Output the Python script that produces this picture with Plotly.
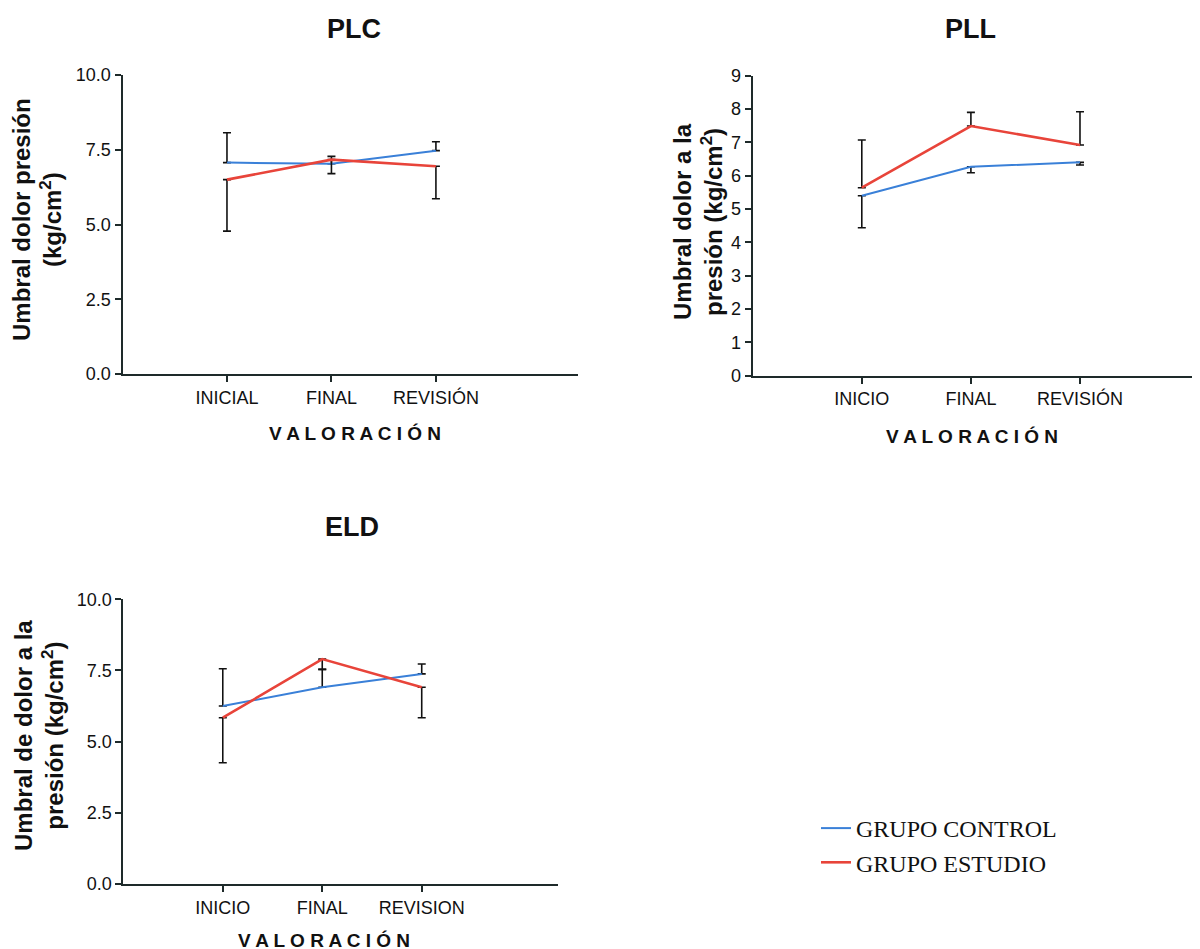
import plotly.graph_objects as go

# ---------------- data ----------------
categories_plc = ["INICIAL", "FINAL", "REVISIÓN"]
categories_pll = ["INICIO", "FINAL", "REVISIÓN"]
categories_eld = ["INICIO", "FINAL", "REVISION"]
positions = [1, 2, 3]

plc_control = [7.07, 7.03, 7.47]
plc_control_err = [1.00, 0.25, 0.30]
plc_estudio = [6.50, 7.17, 6.95]
plc_estudio_err = [1.72, 0.47, 1.09]

pll_control = [5.40, 6.27, 6.40]
pll_control_err = [0.96, 0.18, 0.08]
pll_estudio = [5.64, 7.49, 6.92]
pll_estudio_err = [1.43, 0.41, 1.00]

eld_control = [6.25, 6.91, 7.38]
eld_control_err = [1.31, 0.63, 0.35]
eld_estudio = [5.84, 7.90, 6.91]
eld_estudio_err = [1.58, 0.36, 1.07]

BLUE = "#3a80d8"
RED = "#e8443a"
AX = "#1e2a2a"
FONT = "Liberation Sans, Arial, sans-serif"

fig = go.Figure()


def err(vals, up):
    zeros = [0] * len(vals)
    return dict(type="data", symmetric=False,
                array=vals if up else zeros,
                arrayminus=zeros if up else vals,
                color="#111111", thickness=1.6, width=4)


panels = [
    ("x", "y", plc_control, plc_control_err, True, plc_estudio, plc_estudio_err, False, True),
    ("x2", "y2", pll_control, pll_control_err, False, pll_estudio, pll_estudio_err, True, False),
    ("x3", "y3", eld_control, eld_control_err, True, eld_estudio, eld_estudio_err, False, False),
]

for xa, ya, c, ce, cup, s, se, sup, show in panels:
    fig.add_trace(go.Scatter(x=positions, y=c, mode="lines", name="GRUPO CONTROL",
                             legendgroup="c", showlegend=show, xaxis=xa, yaxis=ya,
                             line=dict(color=BLUE, width=2), error_y=err(ce, cup)))
    fig.add_trace(go.Scatter(x=positions, y=s, mode="lines", name="GRUPO ESTUDIO",
                             legendgroup="s", showlegend=show, xaxis=xa, yaxis=ya,
                             line=dict(color=RED, width=2.6), error_y=err(se, sup)))

W, H = 1200, 949
OFF = 8  # page body margin


def px(v):
    return (v - OFF) / W


def py(v):
    return 1 - (v - OFF) / H


common_x = dict(showline=True, linecolor=AX, linewidth=2, ticks="outside", ticklen=6,
                tickwidth=1.5, tickcolor=AX, showgrid=False, zeroline=False, automargin=False,
                tickvals=positions, tickfont=dict(family=FONT, size=18, color="#111"))
common_y = dict(showline=True, linecolor=AX, linewidth=2, ticks="outside", ticklen=6,
                tickwidth=1.5, tickcolor=AX, showgrid=False, zeroline=False, automargin=False,
                tickfont=dict(family=FONT, size=18, color="#111"))

fig.update_layout(
    width=W, height=H,
    margin=dict(l=0, r=0, t=0, b=0, pad=0, autoexpand=False),
    paper_bgcolor="white", plot_bgcolor="white",
    xaxis=dict(common_x, domain=[px(122.5), px(578)], range=[0, 4.36],
               ticktext=categories_plc, anchor="y"),
    yaxis=dict(common_y, domain=[py(374), py(75)], range=[0, 10], tickvals=[0, 2.5, 5, 7.5, 10],
               tickformat=".1f", anchor="x"),
    xaxis2=dict(common_x, domain=[px(752.7), px(1200)], range=[0, 4.1],
                ticktext=categories_pll, anchor="y2"),
    yaxis2=dict(common_y, domain=[py(375.7), py(75.7)], range=[0, 9], dtick=1, anchor="x2"),
    xaxis3=dict(common_x, domain=[px(123.3), px(558)], range=[0, 4.37],
                ticktext=categories_eld, anchor="y3"),
    yaxis3=dict(common_y, domain=[py(884), py(599.3)], range=[0, 10], tickvals=[0, 2.5, 5, 7.5, 10],
                tickformat=".1f", anchor="x3"),
    showlegend=True,
    legend=dict(x=px(816), y=py(806), xanchor="left", yanchor="top",
                font=dict(family="Liberation Serif, Times New Roman, serif", size=24, color="#111"),
                bgcolor="rgba(0,0,0,0)", tracegroupgap=0, itemwidth=30),
)

annotations = []
# panel titles
for txt, x, y in [("PLC", 354, 29), ("PLL", 970, 29), ("ELD", 352, 527)]:
    annotations.append(dict(text=f"<b>{txt}</b>", x=px(x), y=py(y), xref="paper", yref="paper",
                            showarrow=False, xanchor="center", yanchor="middle",
                            font=dict(family=FONT, size=27, color="#111")))
# y axis titles
for txt, x, y in [
    ("<b>Umbral dolor presión<br>(kg/cm<sup>2</sup>)</b>", 37, 220),
    ("<b>Umbral dolor a la<br>presión (kg/cm<sup>2</sup>)</b>", 698, 222),
    ("<b>Umbral de dolor a la<br>presión (kg/cm<sup>2</sup>)</b>", 39, 736),
]:
    annotations.append(dict(text=txt, x=px(x), y=py(y), xref="paper", yref="paper",
                            showarrow=False, xanchor="center", yanchor="middle", textangle=-90,
                            font=dict(family=FONT, size=24, color="#111")))
# x axis titles
for x, y in [(355, 433), (972, 436), (324, 940)]:
    annotations.append(dict(text="<b>V A L O R A C I Ó N</b>", x=px(x), y=py(y), xref="paper",
                            yref="paper", showarrow=False, xanchor="center", yanchor="middle",
                            font=dict(family=FONT, size=19, color="#111")))

fig.update_layout(annotations=annotations)

fig.write_html("out.html")
